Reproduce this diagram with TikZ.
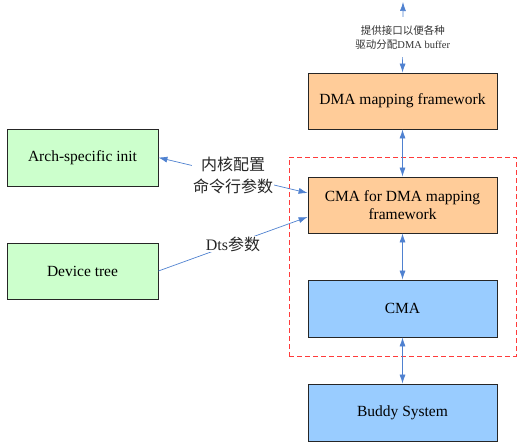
\documentclass[tikz,border=0pt]{standalone}
\usepackage{fontspec}
\setmainfont{Liberation Serif}
\newfontfamily\cjk{Noto Sans CJK SC}
\usetikzlibrary{arrows.meta}
\definecolor{orangefill}{HTML}{FFCC99}
\definecolor{greenfill}{HTML}{CCFFCC}
\definecolor{bluefill}{HTML}{99CCFF}
\definecolor{arrowblue}{HTML}{4F81D0}
\definecolor{dashred}{HTML}{FF3B3B}
\definecolor{labelgray}{HTML}{333333}
\begin{document}
\begin{tikzpicture}[x=1pt,y=-1pt,
  boxbase/.style={draw=black!85, line width=0.8pt, minimum width=189pt, minimum height=56pt, align=center, inner sep=2pt, font=\rmfamily\fontsize{15.5}{18}\selectfont},
  orangebox/.style={boxbase, fill=orangefill},
  bluebox/.style={boxbase, fill=bluefill},
  greenbox/.style={boxbase, fill=greenfill, minimum width=151pt},
  conn/.style={draw=arrowblue, line width=0.7pt},
  tip/.style={-{Latex[length=9pt,width=6pt]}},
  bitip/.style={{Latex[length=9pt,width=6pt]}-{Latex[length=9pt,width=6pt]}},
  lbl/.style={fill=white, inner sep=1pt, align=center, text=black!85},
  smalllbl/.style={fill=white, inner sep=1pt, align=center, text=labelgray, font=\rmfamily\fontsize{10.5}{14}\selectfont}
]
\useasboundingbox (0,0) rectangle (521,444);

\node[orangebox] (dmamap) at (402.5,101) {DMA mapping framework};
\node[orangebox] (cmadma) at (402.5,205) {CMA for DMA mapping\\framework};
\node[bluebox, minimum height=57pt] (cma) at (402.5,308.5) {CMA};
\node[bluebox, minimum height=57pt] (buddy) at (402.5,412.5) {Buddy System};
\node[greenbox, minimum height=57pt] (arch) at (82.5,157.5) {Arch-specific init};
\node[greenbox] (dtree) at (82.5,271) {Device tree};
\coordinate (topend) at (403,2);

\node[draw=dashred, dashed, dash pattern=on 5pt off 3pt, line width=0.8pt, minimum width=227pt, minimum height=199pt, inner sep=0pt] (cmagroup) at (402.5,256.5) {};

\draw[conn, bitip] (topend) -- node[smalllbl, inner ysep=8pt] (toplabel) {{\cjk 提供接口以便各种}\\{\cjk 驱动分配}DMA buffer} (dmamap.north);
\draw[conn, bitip] (dmamap.south) -- (cmadma.north);
\draw[conn, bitip] (cmadma.south) -- (cma.north);
\draw[conn, bitip] (cma.south) -- (buddy.north);

\draw[conn, bitip] (arch.east) -- node[lbl, font=\rmfamily\fontsize{16}{22}\selectfont] (cmdlabel) {{\cjk 内核配置}\\{\cjk 命令行参数}} ([yshift=12pt]cmadma.west);
\draw[conn, tip] (dtree.east) -- node[lbl, font=\rmfamily\fontsize{16}{20}\selectfont] (dtslabel) {Dts{\cjk 参数}} ([yshift=-12pt]cmadma.west);
\end{tikzpicture}
\end{document}
